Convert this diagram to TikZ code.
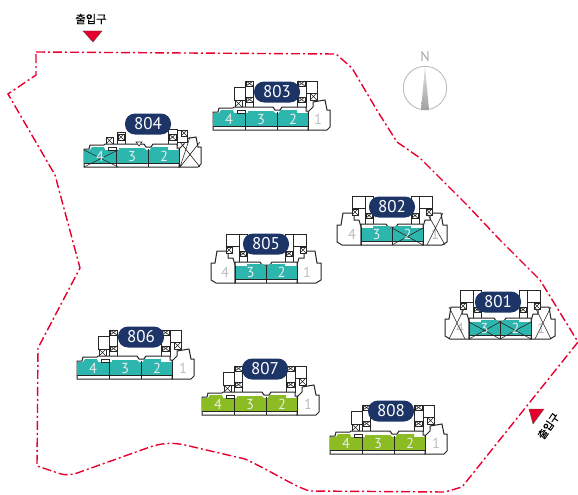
\documentclass[tikz,border=0pt]{standalone}
\usepackage{fontspec}
\setmainfont{PT Sans}
\newfontfamily\krfont[FakeBold=0.3]{Noto Sans CJK KR}
\definecolor{navy}{HTML}{1D3566}
\definecolor{teal1}{HTML}{2DB6AE}
\definecolor{green1}{HTML}{8CBC24}
\definecolor{red1}{HTML}{E8002D}
\definecolor{gray1}{HTML}{BDBDBD}
\tikzset{
 bl/.style={draw=black!85,line width=1pt,line join=miter},
 thin1/.style={draw=black!85,line width=0.6pt},
 badge/.style={fill=navy,rounded corners=10pt,minimum width=46pt,minimum height=21pt,inner sep=0pt,text=white,font=\fontsize{17}{17}\selectfont},
 unum/.style={text=white!92!black,font=\fontsize{14.5}{14.5}\selectfont,inner sep=0pt},
 gnum/.style={text=gray1,font=\fontsize{14.5}{14.5}\selectfont,inner sep=0pt},
 boundary/.style={draw=red1,line width=1.4pt,dash pattern=on 9pt off 3pt on 2pt off 3pt},
 tri/.style={fill=red1,draw=black!70,line width=0.4pt},
}
% crossed box
\newcommand\cb[4]{\draw[thin1,fill=white] (#1,#2) rectangle (#3,#4); \draw[thin1] (#1,#2)--(#3,#4) (#1,#4)--(#3,#2);}
% white outer side units, from local x = 0 to the right
\newcommand\sideunit{\draw[bl,fill=white] (0,-1)--(2,-8)--(7,-8)--(7,-15)--(18,-15)--(20,-3)--(24,-3)--(24,14)--(19,17)--(0,17)--cycle;}
\newcommand\sideunitlow{\draw[bl,fill=white] (0,-1)--(5,-6)--(5,-11)--(17,-13)--(19,-3)--(22,-3)--(22,14)--(19,17)--(0,17)--cycle;}
% core groups of the three-wing building
\newcommand\coreTall{%
  \draw[bl,fill=white] (21,-26) rectangle (32,-13);
  \draw[bl,fill=white] (93,-32) rectangle (104,-20);
  \draw[bl,fill=white] (32,-32) rectangle (40,-6);
  \draw[bl,fill=white] (84,-32) rectangle (93,-6);
  \cb{22}{-13}{29}{-6}\cb{33}{-16}{40}{-11}\cb{33}{-32}{40}{-27}\cb{85}{-16}{92}{-11}\cb{85}{-32}{92}{-27}\cb{97}{-20}{104}{-13}}
\newcommand\coreLow{%
  \draw[bl,fill=white] (33,-18) rectangle (41,-5);
  \draw[bl,fill=white] (84,-21) rectangle (93,-5);
  \draw[bl,fill=white] (93,-20) rectangle (103,-8);
  \cb{22}{-13}{29}{-6}\cb{34}{-16}{40}{-10}\cb{85}{-16}{92}{-10}\cb{97}{-20}{103}{-14}}
% three-wing building: #1 x, #2 y, #3 colour, #4 core group
\newcommand\bldgA[4]{%
 \begin{scope}[shift={(#1,#2)}]
  \begin{scope}[shift={(95,0)}]\sideunitlow\end{scope}
  #4
  \draw[bl,fill=white] (0,-1)--(5,-1)--(6,-5)--(20,-5)--(21,-6)--(40,-6)--(60,-6)--(62,-3)--(67,-3)--(69,-6)--(84,-6)--(93,-6)--(93,-2)--(95,-2)--(95,17)--(0,17)--cycle;
  \fill[#3] (0,0)--(6,0)--(8,-3)--(20,-3)--(21,0)--(35,0)--(35,-2)--(60,-2)--(62,0)--(66,0)--(67,-3)--(84,-3)--(84,0)--(95,0)--(95,13)--(0,13)--cycle;
  \draw[bl] (0,13.5)--(95,13.5) (32,-1)--(32,17) (64,-1)--(64,17) (95,-1)--(95,17);
  \draw[thin1,fill=white] (24,-3) rectangle (32,0);
 \end{scope}}
\newcommand\numsA[2]{%
 \node[unum] at (#1+16,#2+6.5) {4};
 \node[unum] at (#1+48,#2+6.5) {3};
 \node[unum] at (#1+80,#2+6.5) {2};}
% two-wing building with two side units: #1 x, #2 y, #3 colour
\newcommand\bldgB[3]{%
 \begin{scope}[shift={(#1,#2)}]
  \begin{scope}[shift={(62,0)}]\sideunit\end{scope}
  \begin{scope}[xscale=-1]\sideunit\end{scope}
  \draw[bl,fill=white] (-9,-32) rectangle (4,-20);
  \draw[bl,fill=white] (58,-32) rectangle (71,-20);
  \draw[bl,fill=white] (4,-32) rectangle (12,-3);
  \draw[bl,fill=white] (50,-32) rectangle (58,-3);
  \cb{-9}{-19}{-3}{-13}\cb{65}{-19}{71}{-13}\cb{5}{-15}{11}{-10}\cb{51}{-15}{57}{-10}
  \draw[bl,fill=white] (0,-1)--(0,-4)--(12,-4)--(25,-4)--(27,-1)--(35,-1)--(37,-4)--(50,-4)--(62,-4)--(62,17)--(0,17)--cycle;
  \fill[#3] (0,0)--(12,0)--(12,-2)--(28,-2)--(29,0)--(33,0)--(34,-2)--(50,-2)--(50,0)--(62,0)--(62,13)--(0,13)--cycle;
  \draw[bl] (0,13.5)--(62,13.5) (31,-1)--(31,17) (0,-1)--(0,17) (62,-1)--(62,17);
 \end{scope}}
\newcommand\numsB[2]{%
 \node[unum] at (#1+15.5,#2+6.5) {3};
 \node[unum] at (#1+46.5,#2+6.5) {2};}
\begin{document}
\begin{tikzpicture}[x=1pt,y=-1pt]
\useasboundingbox (0,0) rectangle (578,495);
% site boundary
\draw[boundary] (36,52)--(336,54)--(352,68)--(378,112)--(397,142)--(420,158)--(468,206)--(500,240)--(540,280)--(578,342)--(462,487)--(445,492)--(310,491) .. controls (295,487) and (275,473) .. (245,459) -- (185,445) .. controls (175,443) and (165,442) .. (150,447) -- (80,472) .. controls (72,475) and (66,476) .. (58,473) -- (37,466)--(38,348)--(80,268)--(55,175)--(8,94)--(36,75)--cycle;
% north sign
\node[font=\fontsize{14}{14}\selectfont,text=gray!70,inner sep=0pt] (north) at (425,57) {N};
\draw[gray1,line width=0.9pt] (425,88) circle (21.7);
\shade[top color=gray!20,bottom color=gray!75] (425,66)--(429,110)--(421,110)--cycle;
% entrances
\node[font=\krfont\fontsize{11.3}{12}\selectfont,inner sep=0pt] (ent1) at (91,19) {출입구};
\draw[tri] (83,31)--(102,31)--(93,42)--cycle;
\draw[tri] (529,409)--(544,409)--(533,424)--cycle;
\node[font=\krfont\fontsize{10.5}{11}\selectfont,inner sep=0pt,rotate=55] (ent2) at (548.5,426) {출입구};
% buildings
\bldgA{213}{113}{teal1}{\coreTall}
\numsA{213}{113}
\node[gnum] at (318,119) {1};
\bldgA{84}{150}{teal1}{\coreLow}
\draw[thin1] (84,150)--(118,167) (84,167)--(118,150) (180,142)--(200,167) (180,167)--(200,142) (190,137)--(180,167);
\draw[thin1,fill=white] (136,142)--(142,142)--(139,146)--cycle;
\numsA{84}{150}
\bldgA{77}{362}{teal1}{\coreTall}
\numsA{77}{362}
\node[gnum] at (183,368) {1};
\bldgA{202}{398}{green1}{\coreTall}
\numsA{202}{398}
\node[gnum] at (308,404) {1};
\bldgA{330}{437}{green1}{\coreTall}
\numsA{330}{437}
\node[gnum] at (436,443) {1};
\bldgB{361}{228}{teal1}
\node[gnum] at (352,234) {4};
\node[gnum] at (435,234) {1};
\draw[thin1] (392,228)--(423,245) (392,245)--(423,228) (427,213)--(445,245) (427,245)--(443,213);
\numsB{361}{228}
\bldgB{469}{322}{teal1}
\node[gnum] at (460,328) {4};
\node[gnum] at (541,328) {1};
\draw[thin1] (469,322)--(500,339) (469,339)--(500,322) (500,322)--(531,339) (500,339)--(531,322);
\draw[thin1] (449,307)--(465,339) (465,307)--(449,339) (535,307)--(551,339) (551,307)--(535,339);
\numsB{469}{322}
\bldgB{235}{266}{teal1}
\numsB{235}{266}
\node[gnum] at (225,272) {4};
\node[gnum] at (307,272) {1};
% badges
\node[badge] (b803) at (277,92) {803};
\node[badge] (b804) at (148,124) {804};
\node[badge] (b802) at (392,207) {802};
\node[badge] (b805) at (266,244) {805};
\node[badge] (b801) at (498,302) {801};
\node[badge] (b806) at (141,337) {806};
\node[badge] (b807) at (265,369) {807};
\node[badge] (b808) at (391,411) {808};
\end{tikzpicture}
\end{document}
